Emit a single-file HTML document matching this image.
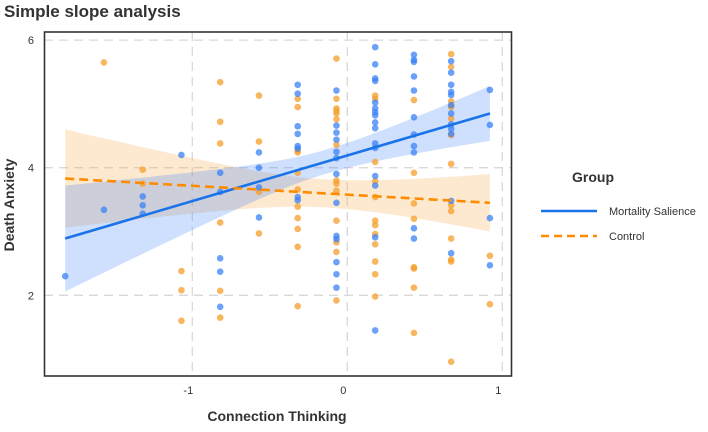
<!DOCTYPE html>
<html><head><meta charset="utf-8"><style>
body{margin:0;background:#fff;width:708px;height:427px;overflow:hidden;font-family:"Liberation Sans",sans-serif}
</style></head><body>
<svg id="chart" width="708" height="427" xmlns="http://www.w3.org/2000/svg">
<text x="4" y="17" font-size="17" font-weight="bold" fill="#333" font-family="Liberation Sans, sans-serif">Simple slope analysis</text>
<text transform="translate(14,205) rotate(-90)" text-anchor="middle" font-size="14" font-weight="bold" fill="#333">Death Anxiety</text>
<text x="277" y="421" text-anchor="middle" font-size="14" font-weight="bold" fill="#333">Connection Thinking</text>
<g id="grid"></g>
<g id="bands"></g>
<g id="points"></g>
<g id="lines"></g>
<rect x="44.5" y="32" width="467" height="344" fill="none" stroke="#333" stroke-width="1.6"/>
<g id="ticks"></g>
<g>
<text x="572" y="182" font-size="14" font-weight="bold" fill="#333">Group</text>
<line x1="541" y1="211" x2="597" y2="211" stroke="#1a73e8" stroke-width="2.5"/>
<text x="609" y="215" font-size="11" fill="#333">Mortality Salience</text>
<line x1="541" y1="236" x2="597" y2="236" stroke="#ff8c00" stroke-width="2.5" stroke-dasharray="8,5"/>
<text x="609" y="240" font-size="11" fill="#333">Control</text>
</g>
</svg>
<script>
const xCols=[-1.82,-1.57,-1.32,-1.07,-0.82,-0.57,-0.32,-0.07,0.18,0.43,0.67,0.92];
const blueY=[[2.30],[3.34],[3.55,3.41,3.28],[4.20],[3.92,3.62,2.58,2.37,1.82],[4.24,4.0,3.69,3.22],
[5.30,5.16,4.65,4.53,4.34,4.30,3.54,3.49],
[5.21,4.66,4.55,4.44,4.25,4.15,3.90,3.45,2.93,2.88,2.52,2.33,2.12],
[5.89,5.62,5.40,5.36,5.02,4.93,4.87,4.82,4.71,4.62,4.38,4.31,3.87,3.72,2.91,1.45],
[5.77,5.69,5.66,5.43,5.21,4.79,4.52,4.34,4.24,3.05,2.89],
[5.67,5.49,5.30,5.19,5.14,4.98,4.85,4.68,4.61,4.53,3.48,2.66],
[5.22,4.67,3.21,2.47]];
const orangeY=[[],[5.65],[3.97,3.75],[2.38,2.08,1.60],[5.34,4.72,4.38,3.14,2.07,1.65],[5.13,4.41,3.62,2.97],
[5.08,4.95,4.27,4.24,3.92,3.66,3.39,3.21,3.04,2.76,1.83],
[5.71,5.08,4.93,4.89,4.85,4.76,4.36,3.80,3.75,3.64,3.17,2.83,2.68,1.92],
[5.13,5.08,4.09,3.79,3.54,3.17,3.10,2.96,2.80,2.53,2.33,1.98],
[5.06,3.92,3.44,3.20,2.44,2.42,2.12,1.41],
[5.78,5.58,5.04,4.95,4.77,4.51,4.06,3.41,3.32,2.89,2.56,2.53,0.96],
[2.62,1.86]];
const xTicks=[-1,0,1];
const yTicks=[2,4,6];
const blueFit=[2.89,4.85];   // predicted at x=-1.82 and x=0.92
const orangeFit=[3.83,3.45];
const blueBand=[0.83,0.19,0.43]; // half-widths: left, min, right
const orangeBand=[0.77,0.22,0.45];
const xRange=[-1.82,0.92];

const NS="http://www.w3.org/2000/svg";
const X=v=>347.3+v*155, Y=v=>167.7-(v-4)*63.8;
function mk(tag,attrs,parent){const e=document.createElementNS(NS,tag);for(const k in attrs)e.setAttribute(k,attrs[k]);parent.appendChild(e);return e;}
const grid=document.getElementById('grid'),ticks=document.getElementById('ticks');
xTicks.forEach(t=>{
 const l=mk('line',{x1:X(t),x2:X(t),y1:32,y2:376,stroke:'#d9d9d9','stroke-width':1.3,'stroke-dasharray':'9,6'},grid);
 
 const tx=mk('text',{x:X(t)-4,y:394,'text-anchor':'middle','font-size':11,fill:'#333'},ticks);tx.textContent=t;
 
});
yTicks.forEach(t=>{
 const l=mk('line',{x1:44,x2:511,y1:Y(t),y2:Y(t),stroke:'#d9d9d9','stroke-width':1.3,'stroke-dasharray':'9,6'},grid);
 
 const tx=mk('text',{x:34,y:Y(t)+4,'text-anchor':'end','font-size':11,fill:'#333'},ticks);tx.textContent=t;
 
});
function band(fit,hw,color,name){
 const xm=-0.15,[x0,x1]=xRange;
 const fy=x=>fit[0]+(fit[1]-fit[0])*(x-x0)/(x1-x0);
 const cl=(hw[0]**2-hw[1]**2)/((x0-xm)**2), cr=(hw[2]**2-hw[1]**2)/((x1-xm)**2);
 const h=x=>Math.sqrt(hw[1]**2+(x<xm?cl:cr)*(x-xm)**2);
 let up=[],lo=[];
 for(let i=0;i<=60;i++){const x=x0+(x1-x0)*i/60;up.push(X(x)+','+Y(fy(x)+h(x)));lo.unshift(X(x)+','+Y(fy(x)-h(x)));}
 const p=mk('polygon',{points:up.concat(lo).join(' '),fill:color,'fill-opacity':0.25},document.getElementById('bands'));
 
}
band(orangeFit,orangeBand,'#f9a743','control-band');
band(blueFit,blueBand,'#3b82f6','mortality-band');
const pts=document.getElementById('points');
function dots(arr,color,name){arr.forEach((col,i)=>col.forEach(v=>{
 const c=mk('circle',{cx:X(xCols[i]),cy:Y(v),r:3.3,fill:color,'fill-opacity':0.75},pts);
 }));}
dots(orangeY,'#f59e2a','control-point');
dots(blueY,'#3b82f6','mortality-point');
const ln=document.getElementById('lines');
const bl=mk('line',{x1:X(xRange[0]),y1:Y(blueFit[0]),x2:X(xRange[1]),y2:Y(blueFit[1]),stroke:'#1a73e8','stroke-width':2.6},ln);

const ol=mk('line',{x1:X(xRange[0]),y1:Y(orangeFit[0]),x2:X(xRange[1]),y2:Y(orangeFit[1]),stroke:'#ff8c00','stroke-width':2.6,'stroke-dasharray':'9,5'},ln);

</script>
</body></html>
